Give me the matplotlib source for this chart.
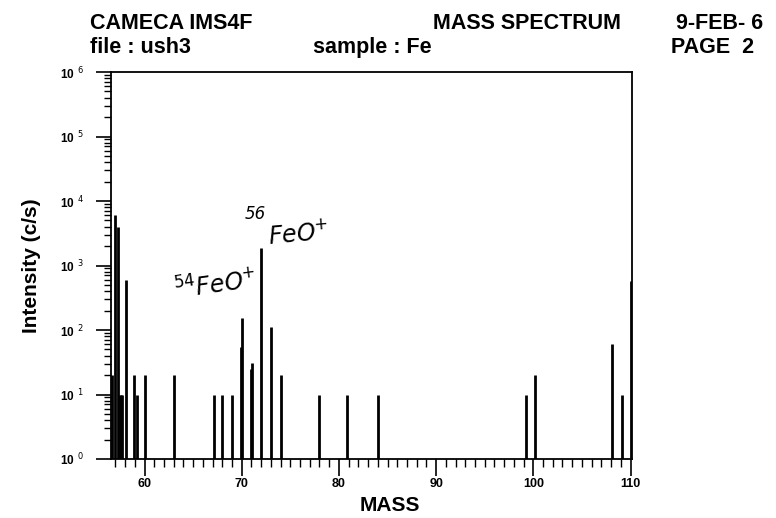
import numpy as np
import matplotlib
matplotlib.use('Agg')
import matplotlib.pyplot as plt
from matplotlib.ticker import MultipleLocator, LogLocator, FixedLocator

# ピーク位置 (MASS) と強度 (c/s)
masses = [56.7, 57.0, 57.3, 57.45, 57.55, 57.7, 58.05, 58.9, 59.2, 60.1,
          63.0, 67.1, 68.0, 69.0, 69.9, 70.05, 71.0, 71.1, 72.0, 73.0, 74.0,
          78.0, 80.85, 84.0, 99.25, 100.15, 108.1, 109.1, 110.05]
intensity = [20, 6000, 3900, 10, 10, 10, 600, 20, 10, 20,
             20, 10, 10, 10, 55, 155, 25, 31, 1850, 112, 20,
             10, 10, 10, 10, 20, 60, 10, 570]

x_ticks = [60, 70, 80, 90, 100, 110]
y_decades = [0, 1, 2, 3, 4, 5, 6]

plt.rcParams['font.family'] = ['Liberation Sans', 'DejaVu Sans']

fig = plt.figure(figsize=(7.76, 5.18), dpi=100)
ax = fig.add_axes([0.1424, 0.1139, 0.672, 0.7471])

ax.vlines(masses, 1, intensity, colors='black', linewidth=2.0)

ax.set_yscale('log')
ax.set_ylim(1, 1e6)
ax.set_xlim(56.5, 110.15)

ax.xaxis.set_major_locator(FixedLocator(x_ticks))
ax.xaxis.set_minor_locator(MultipleLocator(1))
ax.set_xticklabels([str(t) for t in x_ticks], fontsize=9, fontweight='bold')
ax.tick_params(axis='x', which='major', direction='out', length=12, width=1.2, pad=2)
ax.tick_params(axis='x', which='minor', direction='out', length=6, width=1.0)

ax.yaxis.set_major_locator(FixedLocator([10 ** d for d in y_decades]))
ax.yaxis.set_minor_locator(LogLocator(base=10, subs=np.arange(2, 10), numticks=20))
ax.set_yticklabels([r'10$^{\,\,\,%d}$' % d for d in y_decades], fontsize=8.5, fontweight='bold')
ax.tick_params(axis='y', which='major', direction='out', length=11, width=1.2, pad=8)
ax.tick_params(axis='y', which='minor', direction='out', length=5, width=1.0)

for s in ax.spines.values():
    s.set_linewidth(1.3)

ax.set_ylabel('Intensity (c/s)', fontsize=15, fontweight='bold', labelpad=14)
fig.text(0.503, 0.025, 'MASS', fontsize=15, fontweight='bold', ha='center', va='center')

# ヘッダー
hdr = dict(fontsize=15.5, fontweight='bold', va='baseline', ha='left')
fig.text(90 / 776, 1 - 29 / 518, 'CAMECA IMS4F', **hdr)
fig.text(433 / 776, 1 - 29 / 518, 'MASS SPECTRUM', **hdr)
fig.text(676 / 776, 1 - 29 / 518, '9-FEB- 6', **hdr)
fig.text(90 / 776, 1 - 53 / 518, 'file : ush3', **hdr)
fig.text(313 / 776, 1 - 53 / 518, 'sample : Fe', **hdr)
fig.text(671 / 776, 1 - 53 / 518, 'PAGE  2', **hdr)

# 手書き注記
fig.text(173 / 776, 1 - 300 / 518, r'$^{54}$FeO$^{+}$', fontsize=17, style='italic',
         family='DejaVu Sans', rotation=8, ha='left', va='baseline')
fig.text(245 / 776, 1 - 219 / 518, '56', fontsize=12, style='italic',
         family='DejaVu Sans', ha='left', va='baseline')
fig.text(267 / 776, 1 - 244 / 518, r'FeO$^{+}$', fontsize=17, style='italic',
         family='DejaVu Sans', rotation=5, ha='left', va='baseline')

plt.savefig('out.png', dpi=100)
